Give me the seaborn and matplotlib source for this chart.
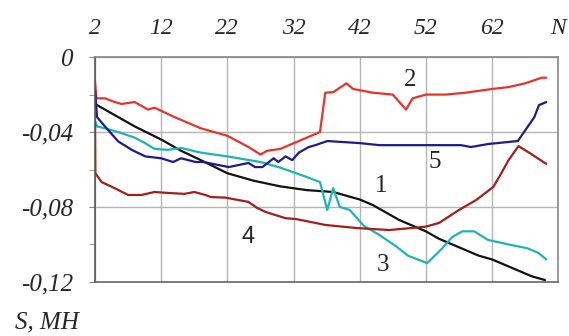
import numpy as np
import pandas as pd
import matplotlib
matplotlib.use("Agg")
import matplotlib.pyplot as plt
import seaborn as sns

# curve 1 (black)
x1 = [2, 5, 8, 12, 15, 18, 22, 26, 30, 34, 38, 40, 42, 44, 46, 48, 50, 52, 54, 56, 58, 60, 62, 64, 66, 68, 70]
y1 = [-0.025, -0.031, -0.037, -0.044, -0.050, -0.055, -0.062, -0.066, -0.069, -0.071, -0.072, -0.074, -0.076,
      -0.079, -0.083, -0.087, -0.090, -0.093, -0.097, -0.100, -0.103, -0.106, -0.108, -0.111, -0.114, -0.117, -0.119]

# curve 2 (red)
x2 = [2, 2.2, 3.5, 5, 6, 8, 10, 11, 14, 18, 22, 25.2, 27, 28, 30, 32, 34, 36, 36.8, 38, 40, 41, 44, 47, 49, 50,
      52, 55, 58, 62, 64.5, 67, 69.5, 70.2]
y2 = [-0.013, -0.022, -0.022, -0.024, -0.025, -0.024, -0.028, -0.027, -0.032, -0.038, -0.042, -0.048, -0.052,
      -0.050, -0.049, -0.046, -0.043, -0.040, -0.019, -0.0187, -0.014, -0.017, -0.019, -0.020, -0.028, -0.022,
      -0.020, -0.020, -0.019, -0.017, -0.016, -0.014, -0.011, -0.011]

# curve 3 (teal)
x3 = [2, 2.3, 3.5, 5.5, 8, 9.6, 11, 13, 15, 18, 22, 27, 30, 32, 34, 36, 37.1, 38, 39, 40.5, 42.6, 45, 47.5,
      49.3, 52.2, 54.5, 56, 57.5, 59.3, 61.4, 64.5, 67.3, 69, 70.2]
y3 = [-0.034, -0.037, -0.038, -0.040, -0.043, -0.046, -0.049, -0.0495, -0.0485, -0.051, -0.053, -0.056, -0.059,
      -0.0615, -0.064, -0.0667, -0.0816, -0.070, -0.080, -0.0816, -0.090, -0.095, -0.101, -0.106, -0.110, -0.102,
      -0.096, -0.093, -0.093, -0.0976, -0.100, -0.102, -0.1045, -0.108]

# curve 4 (dark red)
x4 = [2, 2.05, 3, 5, 7, 9, 11, 13, 15.5, 17, 18.7, 19.5, 21.7, 25.2, 26.5, 27.8, 30.8, 32.3, 35.3, 36.8, 41.4,
      46.4, 50, 52, 54, 57, 59.6, 62.2, 63.4, 64.5, 66, 67.6, 70.2]
y4 = [-0.035, -0.062, -0.0667, -0.070, -0.0736, -0.0736, -0.072, -0.0725, -0.073, -0.072, -0.0736, -0.0747,
      -0.075, -0.0773, -0.0805, -0.0827, -0.086, -0.0864, -0.0885, -0.0896, -0.0912, -0.0923, -0.0912, -0.0905,
      -0.0885, -0.0816, -0.0763, -0.0693, -0.062, -0.055, -0.0475, -0.051, -0.057]

# curve 5 (navy)
x5 = [2, 2.3, 3.5, 5.5, 7.6, 9.6, 12, 13.8, 15, 17.2, 18.4, 22.2, 25.2, 26.2, 27.3, 29, 29.7, 30.8, 31.8, 32.8,
      34.3, 35.3, 37.1, 42, 45, 50, 57.3, 58.8, 61.4, 65.3, 65.9, 68.4, 69.1, 70.2]
y5 = [-0.0176, -0.032, -0.037, -0.045, -0.0496, -0.053, -0.054, -0.056, -0.054, -0.056, -0.056, -0.0587, -0.0565,
      -0.0587, -0.0587, -0.054, -0.056, -0.053, -0.055, -0.051, -0.048, -0.047, -0.0448, -0.0459, -0.047, -0.047,
      -0.047, -0.048, -0.0464, -0.045, -0.0448, -0.032, -0.0256, -0.024]

x_ticks = [2, 12, 22, 32, 42, 52, 62, 72]
x_labels = ["2", "12", "22", "32", "42", "52", "62", "N"]
y_ticks = [0, -0.04, -0.08, -0.12]
y_labels = ["0", "-0,04", "-0,08", "-0,12"]

sns.set_style("white")
serif = ["Liberation Serif", "DejaVu Serif"]

fig = plt.figure(figsize=(5.69, 3.36), dpi=100)
ax = fig.add_axes([0.167, 0.161, 0.814, 0.669])

series = [(x1, y1, "#111111"), (x2, y2, "#e8322b"), (x3, y3, "#1fb4b4"),
          (x4, y4, "#a11f1d"), (x5, y5, "#1e1a8a")]
for xs, ys, c in series:
    sns.lineplot(x=xs, y=ys, color=c, lw=1.6, estimator=None, sort=False, ax=ax)

ax.set_xlim(2, 72)
ax.set_ylim(-0.12, 0)
ax.set_xticks(x_ticks)
ax.set_xticklabels(x_labels, fontsize=17, style="italic", family=serif)
ax.set_yticks(y_ticks)
ax.set_yticklabels(y_labels, fontsize=18, style="italic", family=serif)
ax.set_yticks([-0.02, -0.06, -0.10], minor=True)
ax.xaxis.tick_top()
ax.tick_params(axis="x", length=0, pad=13)
ax.tick_params(axis="y", which="both", direction="out", length=4, color="#888888", pad=12, left=True)
ax.grid(True, which="major", color="#b5b5b5", lw=1)
for side, sp in ax.spines.items():
    sp.set_color("#888888")
    sp.set_linewidth(1.2)
ax.spines["left"].set_color("#555555")
ax.spines["bottom"].set_color("#666666")

# curve numbers
ax.text(45.2, -0.069, "1", fontsize=18, family=serif, ha="center", va="center")
ax.text(49.6, -0.0123, "2", fontsize=18, family=serif, ha="center", va="center")
ax.text(45.5, -0.111, "3", fontsize=18, family=serif, ha="center", va="center")
ax.text(25.2, -0.096, "4", fontsize=17, family=["Liberation Sans", "DejaVu Sans"], ha="center", va="center")
ax.text(53.3, -0.056, "5", fontsize=18, family=serif, ha="center", va="center")

fig.text(0.026, 0.039, "S, MH", fontsize=18, style="italic", family=serif, ha="left", va="center")

fig.savefig("out.png", dpi=100)
